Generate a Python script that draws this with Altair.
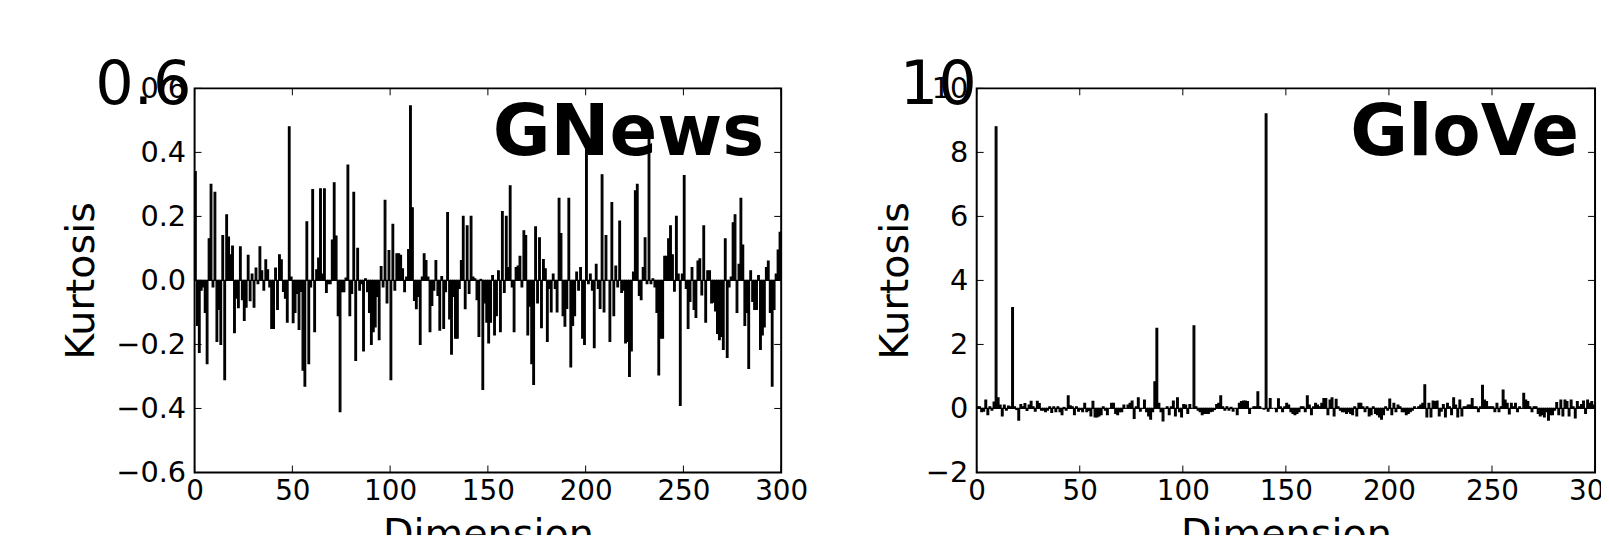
import altair as alt
import pandas as pd

FONT = "DejaVu Sans"
H = 387

dims = list(range(300))

gnews = [
    0.34, -0.14, -0.225, -0.03, -0.02, -0.10, -0.26, 0.13, 0.30, -0.02,
    0.275, -0.19, -0.09, -0.20, 0.14, -0.31, 0.205, 0.135, 0.08, 0.107,
    -0.163, -0.055, -0.085, 0.105, -0.06, -0.125, -0.083, 0.078, -0.063, 0.02,
    -0.083, 0.038, -0.01, 0.105, 0.03, -0.03, 0.064, 0.033, -0.02, -0.15,
    -0.15, 0.038, -0.09, 0.08, 0.064, -0.034, -0.055, -0.13, 0.48, 0.01,
    -0.132, -0.10, -0.04, -0.153, -0.034, -0.28, -0.33, 0.183, -0.26, -0.02,
    0.284, -0.16, 0.033, 0.07, 0.286, 0.02, 0.286, -0.037, -0.01, -0.01,
    0.126, 0.305, 0.138, -0.11, -0.41, -0.035, -0.035, 0.007, 0.36, -0.11,
    -0.04, 0.275, -0.25, 0.10, -0.03, -0.01, -0.22, 0.005, -0.035, -0.10,
    -0.20, -0.16, -0.145, -0.05, -0.185, 0.043, -0.02, 0.25, -0.07, 0.093,
    -0.31, 0.175, -0.03, 0.083, 0.083, 0.078, 0.036, -0.035, 0.01, 0.096,
    0.545, 0.227, -0.062, -0.088, -0.05, -0.20, 0.01, 0.083, 0.062, 0.01,
    -0.16, -0.078, -0.03, 0.062, -0.047, -0.155, 0.012, -0.15, -0.035, 0.212,
    -0.12, -0.23, -0.05, -0.18, -0.18, -0.025, 0.062, 0.20, -0.088, 0.17,
    -0.04, 0.20, 0.01, 0.005, -0.06, -0.175, 0.003, -0.34, -0.07, -0.13,
    -0.195, -0.13, 0.015, -0.17, -0.11, 0.03, -0.16, 0.215, -0.037, 0.20,
    0.04, 0.295, -0.02, -0.16, 0.04, 0.045, 0.075, -0.02, 0.155, 0.14,
    -0.17, -0.08, -0.26, -0.325, 0.167, -0.07, 0.133, -0.147, 0.065, 0.036,
    -0.19, -0.025, -0.098, 0.02, -0.025, -0.098, 0.256, 0.146, -0.11, -0.143,
    -0.087, 0.256, -0.27, -0.14, -0.11, 0.026, -0.03, 0.04, -0.18, -0.20,
    0.42, -0.01, 0.02, -0.03, -0.21, 0.05, -0.025, -0.087, 0.33, -0.098,
    0.14, 0.0, -0.19, 0.243, -0.11, 0.045, -0.02, 0.185, -0.037, -0.03,
    -0.195, -0.19, -0.30, -0.22, 0.026, 0.28, 0.30, -0.047, -0.06, 0.04,
    0.133, -0.01, 0.45, -0.01, 0.005, -0.02, -0.10, -0.295, -0.18, -0.18,
    0.075, 0.075, 0.13, 0.17, 0.08, -0.033, 0.2, 0.02, -0.39, 0.02,
    0.327, -0.025, -0.15, -0.065, 0.04, -0.09, -0.115, 0.06, 0.067, -0.045,
    0.17, -0.13, 0.03, 0.03, -0.07, -0.068, -0.095, -0.165, -0.185, -0.175,
    -0.215, 0.13, -0.24, -0.02, 0.01, 0.18, 0.205, -0.10, 0.05, 0.256,
    0.11, -0.14, -0.10, -0.275, 0.03, -0.065, -0.09, -0.09, 0.015, -0.215,
    -0.17, -0.145, 0.04, 0.06, -0.10, -0.33, -0.09, 0.02, 0.095, 0.15,
]

glove = [
    0.05, 0.05, -0.1, -0.08, 0.26, -0.19, 0.05, -0.05, 0.2, 8.8,
    0.33, 0.1, -0.23, 0.1, -0.05, 0.07, 0.05, 3.15, 0.05, -0.03,
    -0.36, 0.12, 0.05, 0.15, -0.06, 0.1, 0.22, 0.05, -0.08, 0.22,
    0.15, -0.05, -0.05, -0.1, -0.05, 0.05, -0.12, 0.05, -0.1, 0.05,
    -0.1, -0.19, 0.03, -0.05, 0.39, 0.08, 0.05, -0.19, 0.05, -0.08,
    -0.03, -0.1, 0.155, -0.1, -0.06, -0.23, 0.22, -0.26, -0.26, -0.23,
    -0.19, 0.05, -0.05, -0.19, 0.0, 0.155, 0.155, -0.155, -0.19, -0.1,
    -0.1, 0.1, 0.0, 0.1, 0.155, 0.23, -0.31, 0.05, 0.33, -0.08,
    0.0, 0.26, -0.1, -0.23, -0.33, -0.1, 0.83, 2.5, 0.155, -0.1,
    -0.39, 0.0, 0.05, -0.19, 0.05, 0.23, -0.23, 0.33, -0.1, -0.26,
    0.12, 0.1, -0.155, 0.12, 0.0, 2.58, 0.05, -0.05, -0.1, -0.19,
    -0.155, -0.155, -0.155, -0.1, -0.08, -0.03, 0.12, 0.155, 0.39, 0.05,
    -0.05, 0.05, -0.05, 0.03, -0.08, 0.0, -0.19, 0.155, 0.21, 0.23,
    0.23, 0.21, -0.155, 0.0, 0.05, 0.05, 0.52, 0.05, 0.0, -0.02,
    9.2, -0.08, 0.31, 0.0, 0.0, -0.1, 0.3, 0.05, -0.1, 0.05,
    0.155, 0.1, -0.1, -0.155, -0.19, -0.155, -0.1, 0.05, 0.05, -0.1,
    0.39, 0.1, -0.19, 0.05, 0.155, 0.1, 0.05, 0.155, 0.31, 0.31,
    -0.19, 0.26, 0.33, -0.23, 0.28, 0.05, -0.05, -0.1, -0.1, -0.155,
    -0.1, -0.155, -0.19, 0.05, -0.23, 0.155, 0.155, 0.05, -0.1, 0.05,
    -0.23, -0.19, 0.05, -0.155, -0.19, -0.26, -0.33, -0.19, 0.05, -0.05,
    0.29, -0.19, 0.155, -0.1, 0.1, 0.05, -0.1, -0.1, -0.19, -0.155,
    -0.1, -0.05, 0.05, 0.0, 0.05, 0.1, 0.155, 0.74, -0.26, 0.155,
    -0.26, 0.23, 0.21, 0.23, -0.23, -0.08, 0.12, -0.26, 0.155, 0.05,
    -0.19, 0.33, 0.1, -0.26, 0.26, -0.23, 0.05, 0.05, 0.1, 0.1,
    0.31, 0.05, 0.05, -0.1, 0.05, 0.72, 0.26, 0.21, 0.05, 0.05,
    0.05, -0.1, 0.155, -0.1, 0.05, 0.57, 0.26, 0.155, -0.17, 0.155,
    0.05, 0.155, -0.1, 0.05, 0.0, 0.47, 0.26, 0.21, 0.05, -0.1,
    0.05, 0.05, -0.155, -0.23, -0.19, -0.26, -0.1, -0.36, -0.19, -0.19,
    -0.05, 0.18, -0.19, 0.26, -0.23, 0.26, 0.21, -0.23, 0.26, 0.05,
    -0.29, 0.21, 0.05, 0.12, 0.23, -0.155, 0.26, 0.155, 0.21, 0.1,
]

x_ticks = [0, 50, 100, 150, 200, 250, 300]
gnews_y_ticks = [-0.6, -0.4, -0.2, 0.0, 0.2, 0.4, 0.6]
glove_y_ticks = [-2, 0, 2, 4, 6, 8, 10]


def panel(values, yticks, ydomain, yfmt, width, name, name_dx, big, big_x, ytitle_x):
    df = pd.DataFrame({
        "dim": dims,
        "dim2": [d + 0.8 for d in dims],
        "value": values,
        "base": [0.0] * len(dims),
    })
    xscale = alt.Scale(domain=[0, 300], nice=False, zero=False)
    yscale = alt.Scale(domain=ydomain, nice=False, zero=False)
    xaxis = alt.Axis(
        values=x_ticks, title="Dimension", ticks=False, domain=False, grid=False,
        labelFontSize=28, labelFont=FONT, labelColor="black", labelPadding=5,
        labelFlush=False, labelOverlap=False, format="d",
        titleFont=FONT, titleFontSize=40, titleFontWeight="normal",
        titleColor="black", titleBaseline="alphabetic", titleY=75,
    )
    yaxis = alt.Axis(
        values=yticks, title="Kurtosis", ticks=False, domain=False, grid=False,
        labelFontSize=29, labelFont=FONT, labelColor="black", labelPadding=9,
        labelFlush=False, labelOverlap=False, format=yfmt,
        titleFont=FONT, titleFontSize=40, titleFontWeight="normal",
        titleColor="black", titleBaseline="alphabetic",
        titleX=ytitle_x, titleY=H / 2, titleAngle=270,
    )
    bars = alt.Chart(df).mark_rect(color="black", stroke="black", strokeWidth=1.3).encode(
        x=alt.X("dim:Q", scale=xscale, axis=xaxis),
        x2="dim2:Q",
        y=alt.Y("value:Q", scale=yscale, axis=yaxis),
        y2="base:Q",
    )
    ydf = pd.DataFrame({"value": yticks})
    xdf = pd.DataFrame({"dim": x_ticks})
    tick_style = dict(color="black", strokeWidth=1)
    lt = alt.Chart(ydf).mark_rule(**tick_style).encode(
        y=alt.Y("value:Q", scale=yscale, axis=yaxis), x=alt.value(0), x2=alt.value(7))
    rt = alt.Chart(ydf).mark_rule(**tick_style).encode(
        y=alt.Y("value:Q", scale=yscale, axis=yaxis), x=alt.value(width - 7), x2=alt.value(width))
    bt = alt.Chart(xdf).mark_rule(**tick_style).encode(
        x=alt.X("dim:Q", scale=xscale, axis=xaxis), y=alt.value(H - 7), y2=alt.value(H))
    tt = alt.Chart(xdf).mark_rule(**tick_style).encode(
        x=alt.X("dim:Q", scale=xscale, axis=xaxis), y=alt.value(0), y2=alt.value(7))
    title = alt.Chart(pd.DataFrame({"t": [name]})).mark_text(
        font=FONT, fontSize=71, fontWeight="bold", align="right",
        baseline="alphabetic", color="black",
    ).encode(text="t:N", x=alt.value(width - name_dx), y=alt.value(67))
    bigtxt = alt.Chart(pd.DataFrame({"t": [big]})).mark_text(
        font=FONT, fontSize=61, align="right", baseline="alphabetic", color="black",
    ).encode(text="t:N", x=alt.value(big_x), y=alt.value(16))
    return alt.layer(bars, lt, rt, bt, tt, title, bigtxt).properties(width=width, height=H)


left = panel(gnews, gnews_y_ticks, [-0.6, 0.6], ".1f", 591, "GNews", 17, "0.6", -3, -102)
right = panel(glove, glove_y_ticks, [-2, 10], "d", 623, "GloVe", 16, "10", 0, -70)

chart = alt.hconcat(left, right, spacing=197, bounds="flush").properties(
    padding={"left": 53, "top": 45, "right": -22, "bottom": -23},
).configure_view(stroke="black", strokeWidth=2)

chart.save("out.html", embed_options={"renderer": "svg", "actions": False})
